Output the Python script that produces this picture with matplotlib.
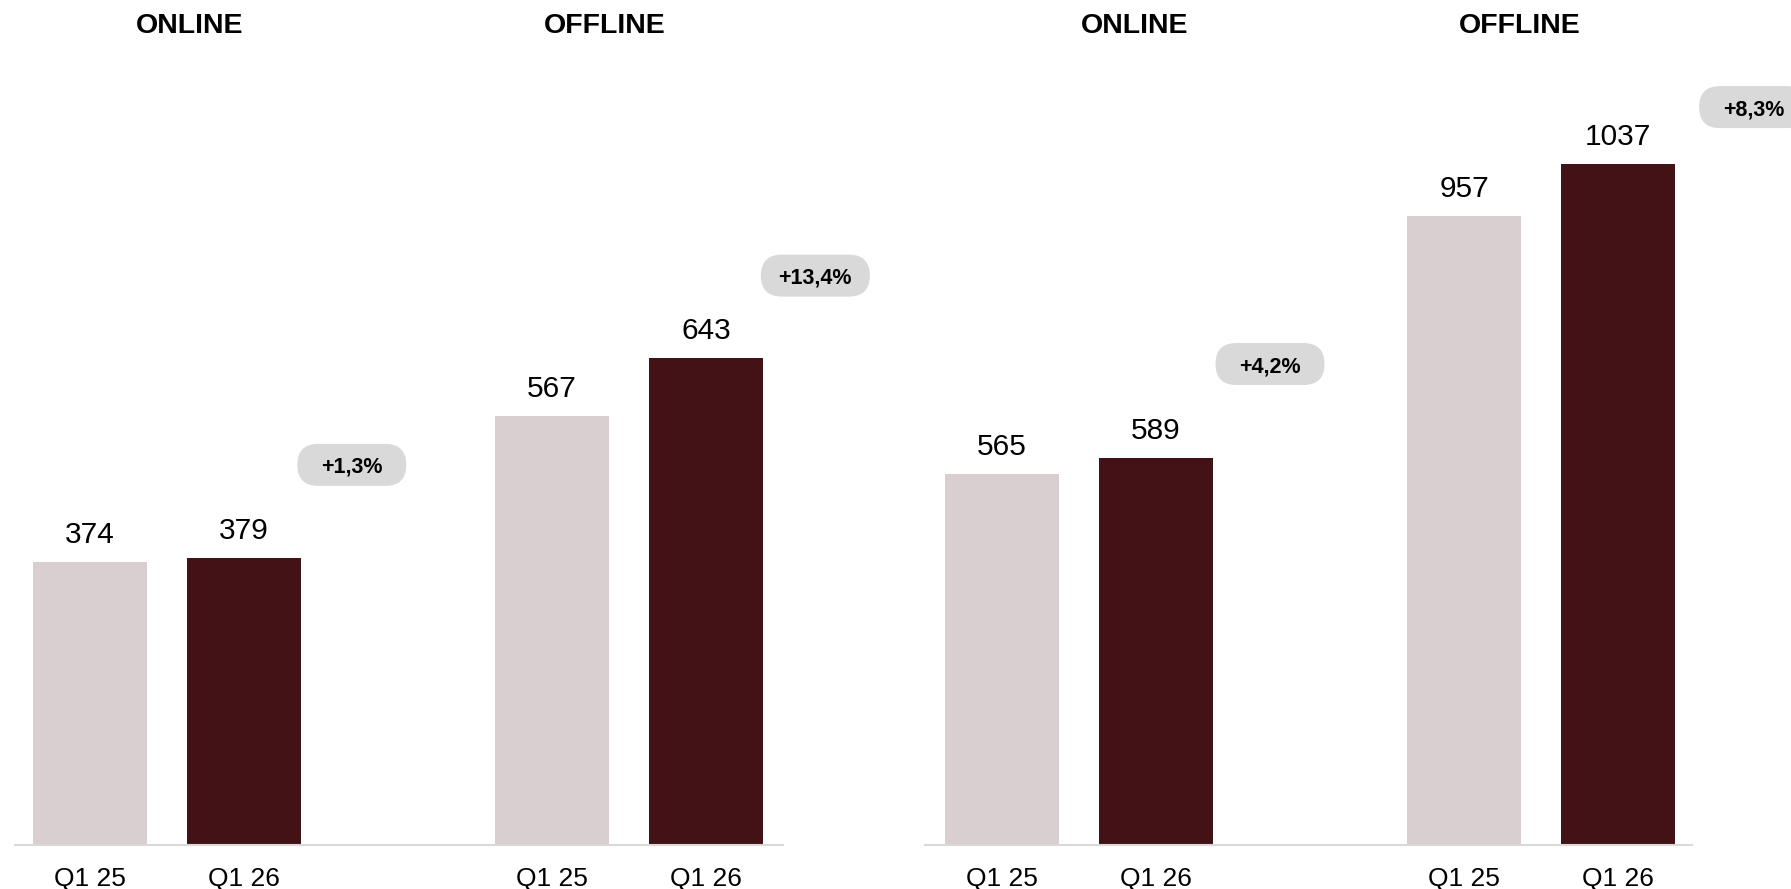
import matplotlib
matplotlib.use("Agg")
import matplotlib.pyplot as plt
from matplotlib.patches import FancyBboxPatch
from matplotlib.transforms import ScaledTranslation, blended_transform_factory

plt.rcParams["font.family"] = ["Liberation Sans", "DejaVu Sans"]

# --- data -------------------------------------------------------------------
channels = ["ONLINE", "OFFLINE"]
periods = ["Q1 25", "Q1 26"]

left_q125 = [374, 567]
left_q126 = [379, 643]
left_growth = ["+1,3%", "+13,4%"]

right_q125 = [565, 957]
right_q126 = [589, 1037]
right_growth = ["+4,2%", "+8,3%"]

# --- layout -----------------------------------------------------------------
LIGHT = "#d9cfd1"
DARK = "#431216"
PILL = "#d9d9d9"
GROUP_X = [0, 3]          # first bar of each channel group
BAR_W = 0.74

W, H = 1791, 889
fig = plt.figure(figsize=(W / 100, H / 100), dpi=100)

def px_axes(x0, x1, y_base):
    # axes spanning from the baseline (px from top) to the top of the figure
    return fig.add_axes([x0 / W, (H - y_base) / H, (x1 - x0) / W, y_base / H])

panels = [
    dict(ax=px_axes(15, 783, 845), xlim=(-0.487, 4.5), ytop=1116,
         q125=left_q125, q126=left_q126, growth=left_growth,
         title_x=[0.65, 3.34], pill_xy=[(1.70, 502), (4.71, 752)]),
    dict(ax=px_axes(925, 1692, 845), xlim=(-0.5, 4.48), ytop=1286,
         q125=right_q125, q126=right_q126, growth=right_growth,
         title_x=[0.86, 3.36], pill_xy=[(1.74, 732), (4.88, 1123)]),
]

for p in panels:
    ax = p["ax"]
    ticks, labels = [], []
    for gx, v25, v26 in zip(GROUP_X, p["q125"], p["q126"]):
        for dx, val, col in ((0, v25, LIGHT), (1, v26, DARK)):
            ax.bar(gx + dx, val, width=BAR_W, color=col, zorder=2)
            ax.annotate(f"{val}", (gx + dx, val), xytext=(0, 13.5),
                        textcoords="offset points", ha="center", va="baseline",
                        fontsize=21.5, color="black")
        ticks += [gx, gx + 1]
        labels += periods

    ax.set_xlim(*p["xlim"])
    ax.set_ylim(0, p["ytop"])
    ax.set_xticks(ticks)
    ax.set_xticklabels(labels, fontsize=19)
    ax.tick_params(axis="x", length=0, pad=16)
    ax.set_yticks([])
    for side in ("top", "right", "left"):
        ax.spines[side].set_visible(False)
    ax.spines["bottom"].set_color("#d9d9d9")
    ax.spines["bottom"].set_linewidth(1.5)
    ax.patch.set_alpha(0)

    # channel headers along the top edge
    tr = blended_transform_factory(ax.transData, fig.transFigure)
    for name, tx in zip(channels, p["title_x"]):
        ax.text(tx, 1 - 26 / H, name, transform=tr, ha="center", va="center",
                fontsize=20.5, fontweight="bold", clip_on=False)

    # year-on-year growth pills
    for txt, (x, y) in zip(p["growth"], p["pill_xy"]):
        offs = fig.dpi_scale_trans + ScaledTranslation(x, y, ax.transData)
        pill = FancyBboxPatch((-0.545, -0.21), 1.09, 0.42,
                              boxstyle="round,pad=0,rounding_size=0.21",
                              facecolor=PILL, edgecolor="none",
                              transform=offs, clip_on=False, zorder=3)
        ax.add_patch(pill)
        ax.text(x, y, txt, ha="center", va="center_baseline", fontsize=15.5,
                fontweight="bold", clip_on=False, zorder=4)

fig.savefig("out.png", dpi=100)
